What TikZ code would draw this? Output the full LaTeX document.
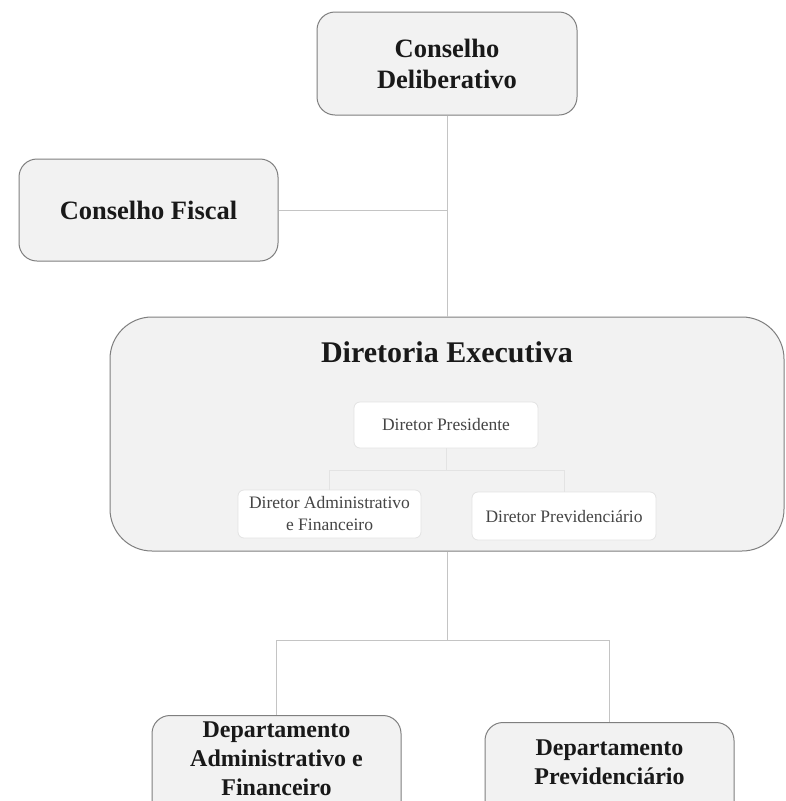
\documentclass[tikz,border=0pt]{standalone}
\usepackage{fontspec}
\setmainfont{Liberation Serif}
\usetikzlibrary{positioning}
\definecolor{boxfill}{HTML}{F2F2F2}
\definecolor{boxline}{HTML}{7F7F7F}
\definecolor{linkline}{HTML}{C4C4C4}
\definecolor{innerline}{HTML}{E3E3E3}
\definecolor{softtext}{HTML}{454545}
\newcommand{\headfont}{\fontsize{26.5}{31}\selectfont\bfseries}
\newcommand{\deptfont}{\fontsize{24}{29}\selectfont\bfseries}
\newcommand{\rolefont}{\fontsize{17.5}{22}\selectfont}

\begin{document}
\begin{tikzpicture}[x=1pt, y=-1pt,
    orgbox/.style={draw=boxline, fill=boxfill, line width=1pt, rounded corners=18pt,
                   align=center, inner sep=0pt, text=black!90},
    rolebox/.style={draw=innerline, fill=white, line width=0.8pt, rounded corners=6pt,
                    align=center, inner sep=0pt, text=softtext, font=\rolefont},
    link/.style={draw=linkline, line width=0.9pt},
    innerlink/.style={draw=innerline, line width=0.9pt}]
    \path[use as bounding box, clip] (0,0) rectangle (785,801);
    \fill[white] (0,0) rectangle (785,801);
    \node[orgbox, minimum width=260pt, minimum height=103pt, font=\headfont] (cd) at (447,63.5)  {Conselho\\Deliberativo};
    \node[orgbox, minimum width=259pt, minimum height=102pt, font=\headfont,
          below left=43pt and 38pt of cd]                                        (cf)  {Conselho Fiscal};
    \node[orgbox, rounded corners=42pt, minimum width=674pt, minimum height=234pt,
          below=201pt of cd]                                                     (de)  {};
    \node[font=\fontsize{30}{36}\selectfont\bfseries, inner sep=0pt, text=black!90,
          below=25pt of de.north]                                                (detitle) {Diretoria Executiva};
    % directors inside the executive board
    \node[rolebox, minimum width=184pt, minimum height=46pt] (dp)   at (446,425)   {Diretor Presidente};
    \node[rolebox, minimum width=183pt, minimum height=48pt] (daf)  at (329.5,514) {Diretor Administrativo\\e Financeiro};
    \node[rolebox, minimum width=184pt, minimum height=48pt] (dpv)  at (564,516)   {Diretor Previdenciário};
    % departments (boxes run past the lower edge)
    \node[orgbox, minimum width=249pt, minimum height=130pt, anchor=north] (dpaf) at (276.5,715) {};
    \node[orgbox, minimum width=249pt, minimum height=130pt, anchor=north] (dpp)  at (609.5,722) {};
    \node[font=\deptfont, align=center, text=black!90] (dpaftext) at (276.5,759) {Departamento\\Administrativo e\\Financeiro};
    \node[font=\deptfont, align=center, text=black!90] (dpptext)  at (609.5,762) {Departamento\\Previdenciário};
    \coordinate (jtop) at (cd.south |- cf.east);
    \coordinate (jmid) at (446,470);
    \coordinate (jlow) at (447,640);
    \draw[link] (cd) -- (de);
    \draw[link] (cf) -- (jtop);
    \draw[innerlink] (dp) -- (jmid) -| (daf);
    \draw[innerlink] (jmid) -| (dpv);
    \draw[link] (de) -- (jlow) -| (dpaf);
    \draw[link] (jlow) -| (dpp);
\end{tikzpicture}
\end{document}
